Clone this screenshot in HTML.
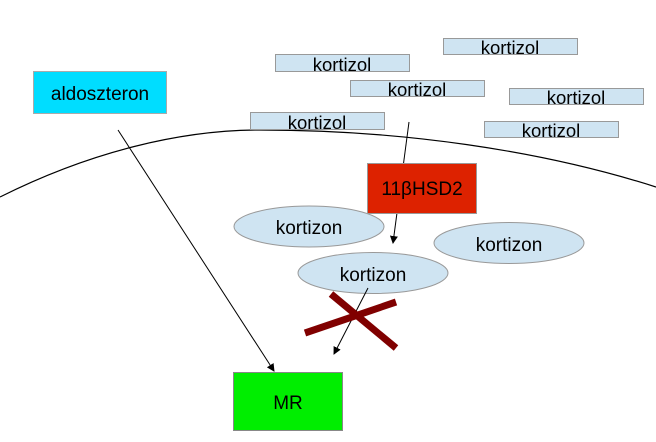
<!DOCTYPE html>
<html><head><meta charset="utf-8"><style>
html,body{margin:0;padding:0;background:#fff;}
svg{display:block;}
text{font-family:"Liberation Sans",sans-serif;fill:#000;}
</style></head><body>
<svg width="656" height="442" viewBox="0 0 656 442" xmlns="http://www.w3.org/2000/svg">
<defs>
<marker id="ah" markerWidth="8" markerHeight="8" refX="7" refY="4" orient="auto" markerUnits="userSpaceOnUse">
<path d="M0,0 L8,4 L0,8 Z" fill="#000"/>
</marker>
</defs>
<path d="M0,197 C90,152 180,130 260,130 C400,130 540,150 656,187" fill="none" stroke="#000" stroke-width="1.2"/>
<g fill="#cfe4f2" stroke="#999" stroke-width="1">
<rect x="275.5" y="54.5" width="134" height="17"/>
<rect x="443.5" y="38.5" width="134" height="16"/>
<rect x="350.5" y="80.5" width="134" height="16"/>
<rect x="509.5" y="88.5" width="134" height="16"/>
<rect x="250.5" y="112.5" width="134" height="17"/>
<rect x="484.5" y="121.5" width="134" height="16"/>
</g>
<g font-size="18.5" text-anchor="middle">
<text x="342" y="71">kortizol</text>
<text x="510" y="54">kortizol</text>
<text x="417" y="96">kortizol</text>
<text x="576" y="104">kortizol</text>
<text x="317" y="129">kortizol</text>
<text x="551" y="137">kortizol</text>
</g>
<rect x="33.5" y="71.5" width="133" height="42" fill="#00ddff" stroke="#aaa"/>
<text x="100" y="100" font-size="19" text-anchor="middle">aldoszteron</text>
<line x1="409" y1="122" x2="393" y2="243" stroke="#000" stroke-width="1" marker-end="url(#ah)"/>
<rect x="367.5" y="163.5" width="109" height="50" fill="#dd2200" stroke="#999"/>
<text x="422" y="195" font-size="19" text-anchor="middle">11βHSD2</text>
<g fill="#cfe4f2" stroke="#999" stroke-width="1">
<ellipse cx="309" cy="226.5" rx="75" ry="20.5"/>
<ellipse cx="509" cy="243" rx="75" ry="20.5"/>
<ellipse cx="373" cy="273" rx="75" ry="20.5"/>
</g>
<g font-size="19" text-anchor="middle">
<text x="309" y="234">kortizon</text>
<text x="509" y="251">kortizon</text>
<text x="373" y="281">kortizon</text>
</g>
<line x1="118" y1="130" x2="274" y2="371" stroke="#000" stroke-width="1" marker-end="url(#ah)"/>
<line x1="368" y1="288" x2="334" y2="354" stroke="#000" stroke-width="1" marker-end="url(#ah)"/>
<g stroke="#800000" stroke-width="7">
<line x1="331" y1="294" x2="396" y2="348"/>
<line x1="305" y1="333" x2="396" y2="302"/>
</g>
<rect x="233.5" y="372.5" width="109" height="58" fill="#00ee00" stroke="#888"/>
<text x="288" y="409" font-size="19" text-anchor="middle">MR</text>
</svg>
</body></html>
